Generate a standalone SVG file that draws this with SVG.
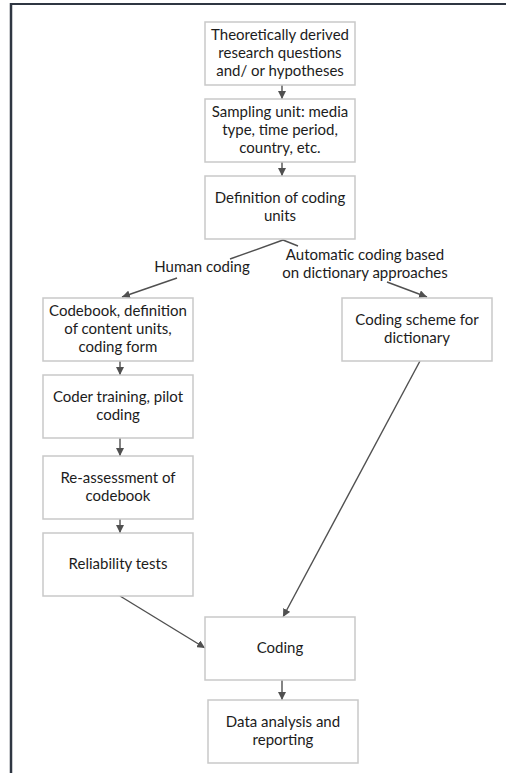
<svg xmlns="http://www.w3.org/2000/svg" width="506" height="773" viewBox="0 0 506 773">
<defs>
<marker id="ah" viewBox="0 0 10 10" refX="10" refY="5" markerWidth="8" markerHeight="8" markerUnits="userSpaceOnUse" orient="auto">
<path d="M0,0 L10,5 L0,10 Z" fill="#505050"/>
</marker>
<style>
.box{fill:#ffffff;stroke:#c9c9c9;stroke-width:1.5}
.t{font-family:Lato,"Open Sans",sans-serif;font-size:15px;fill:#1c1c1c;text-anchor:middle}
.c{fill:none;stroke:#505050;stroke-width:1.4;marker-end:url(#ah)}
.cn{fill:none;stroke:#505050;stroke-width:1.4}
.frame{stroke:#2f3642;fill:none}
</style>
</defs>
<rect x="0" y="0" width="506" height="773" fill="#ffffff"/>
<line class="frame" x1="11" y1="4" x2="506" y2="4" stroke-width="2"/>
<line class="frame" x1="11" y1="3" x2="11" y2="773" stroke-width="2.5"/>

<g id="connectors">
<line class="c" x1="282" y1="85" x2="282" y2="99"/>
<line class="c" x1="282" y1="162" x2="282" y2="176"/>
<path class="cn" d="M283,240 L230,259"/>
<path class="c" d="M177,278 L122,297"/>
<path class="cn" d="M283,240 L298,246"/>
<path class="c" d="M387,282 L427,297"/>
<line class="c" x1="120" y1="361" x2="120" y2="375"/>
<line class="c" x1="120" y1="438" x2="120" y2="456"/>
<line class="c" x1="120" y1="519" x2="120" y2="533"/>
<line class="c" x1="120" y1="596" x2="205" y2="648"/>
<line class="c" x1="420" y1="361" x2="283" y2="617"/>
<line class="c" x1="282" y1="680" x2="282" y2="700"/>
</g>

<g id="label-human">
<text class="t" x="202" y="272">Human coding</text>
</g>
<g id="label-automatic">
<text class="t" x="365" y="260">Automatic coding based</text>
<text class="t" x="365" y="278">on dictionary approaches</text>
</g>

<g id="n1">
<rect class="box" x="205" y="22" width="150" height="63"/>
<text class="t" x="280" y="40">Theoretically derived</text>
<text class="t" x="280" y="58">research questions</text>
<text class="t" x="280" y="76">and/ or hypotheses</text>
</g>
<g id="n2">
<rect class="box" x="205" y="99" width="150" height="63"/>
<text class="t" x="280" y="117">Sampling unit: media</text>
<text class="t" x="280" y="135">type, time period,</text>
<text class="t" x="280" y="153">country, etc.</text>
</g>
<g id="n3">
<rect class="box" x="205" y="176" width="150" height="63"/>
<text class="t" x="280" y="203">Definition of coding</text>
<text class="t" x="280" y="221">units</text>
</g>
<g id="n4">
<rect class="box" x="43" y="298" width="150" height="63"/>
<text class="t" x="118" y="316">Codebook, definition</text>
<text class="t" x="118" y="334">of content units,</text>
<text class="t" x="118" y="352">coding form</text>
</g>
<g id="n5">
<rect class="box" x="342" y="298" width="150" height="63"/>
<text class="t" x="417" y="325">Coding scheme for</text>
<text class="t" x="417" y="343">dictionary</text>
</g>
<g id="n6">
<rect class="box" x="43" y="375" width="150" height="63"/>
<text class="t" x="118" y="402">Coder training, pilot</text>
<text class="t" x="118" y="420">coding</text>
</g>
<g id="n7">
<rect class="box" x="43" y="456" width="150" height="63"/>
<text class="t" x="118" y="483">Re-assessment of</text>
<text class="t" x="118" y="501">codebook</text>
</g>
<g id="n8">
<rect class="box" x="43" y="533" width="150" height="63"/>
<text class="t" x="118" y="569">Reliability tests</text>
</g>
<g id="n9">
<rect class="box" x="205" y="617" width="150" height="63"/>
<text class="t" x="280" y="653">Coding</text>
</g>
<g id="n10">
<rect class="box" x="208" y="700" width="150" height="63"/>
<text class="t" x="283" y="727">Data analysis and</text>
<text class="t" x="283" y="745">reporting</text>
</g>
</svg>
